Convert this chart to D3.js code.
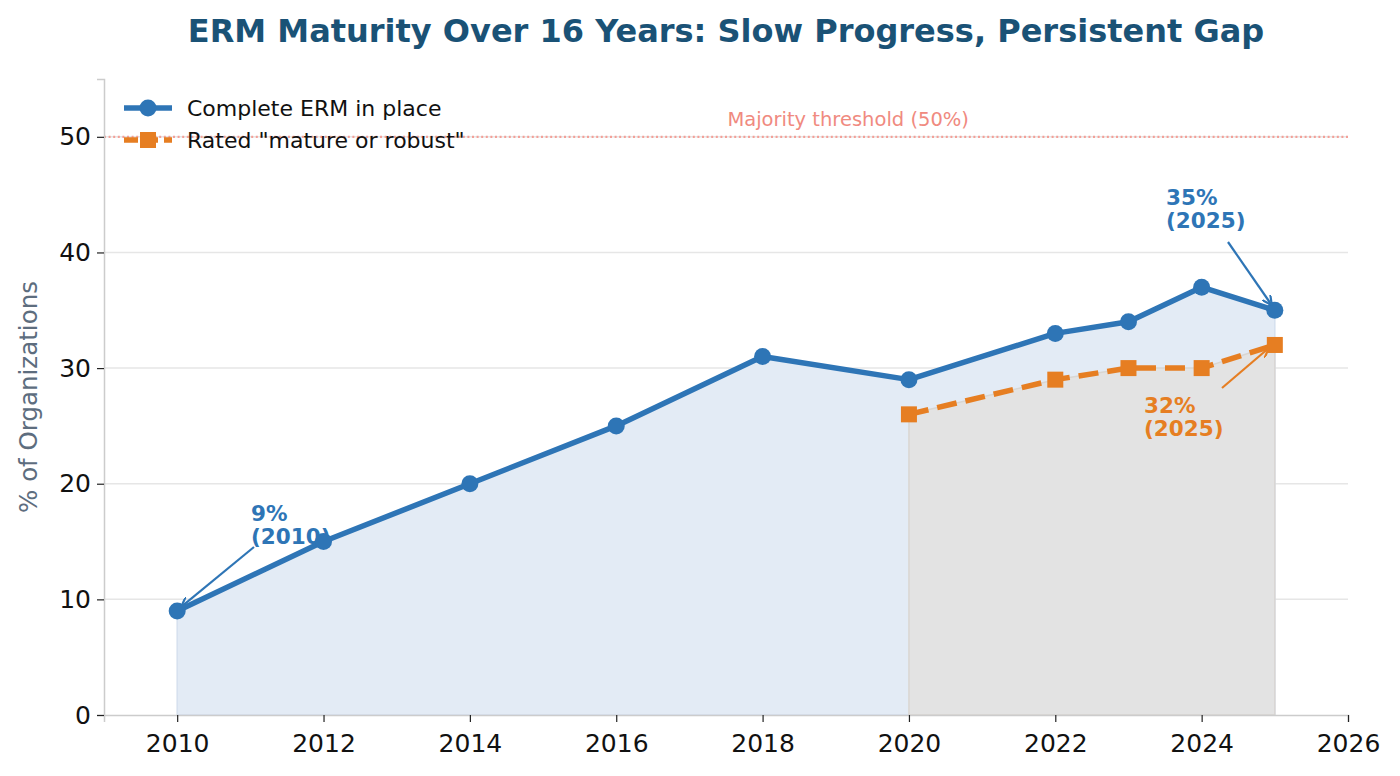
<!DOCTYPE html>
<html>
<head>
<meta charset="utf-8">
<script src="https://cdn.jsdelivr.net/npm/d3@7"></script>
<style>
  body { margin: 0; background: #fff; }
  text { font-family: "DejaVu Sans", sans-serif; }
</style>
</head>
<body>
<div id="chart"></div>
<script>
// data
const completeYears = [2010, 2012, 2014, 2016, 2018, 2020, 2022, 2023, 2024, 2025];
const completeValues = [9, 15, 20, 25, 31, 29, 33, 34, 37, 35];
const matureYears = [2020, 2022, 2023, 2024, 2025];
const matureValues = [26, 29, 30, 30, 32];
const xTicks = [2010, 2012, 2014, 2016, 2018, 2020, 2022, 2024, 2026];
const yTicks = [0, 10, 20, 30, 40, 50];
const threshold = 50;

const blue = "#2e75b6", orange = "#e67e22";

const W = 1400, H = 776;
const svg = d3.select("#chart").append("svg")
    .attr("width", W)
    .attr("height", H);

const x = d3.scaleLinear().domain([2009, 2026]).range([104, 1348]);
const y = d3.scaleLinear().domain([0, 55]).range([715, 79]);

const complete = completeYears.map((d, i) => ({year: d, v: completeValues[i]}));
const mature = matureYears.map((d, i) => ({year: d, v: matureValues[i]}));

// grid
svg.append("g")
    .selectAll("line")
    .data(yTicks.filter(d => d > 0))
    .enter().append("line")
    .attr("x1", 104).attr("x2", 1348)
    .attr("y1", d => y(d)).attr("y2", d => y(d))
    .attr("stroke", "#e6e6e6")
    .attr("stroke-width", 1.5);

// fills
const area = d3.area().x(d => x(d.year)).y0(y(0)).y1(d => y(d.v));
svg.append("path").datum(complete)
    .attr("d", area)
    .attr("fill", "#e3ebf5")
    .attr("stroke", "#d5e0ee")
    .attr("stroke-width", 1.5);
svg.append("path").datum(mature)
    .attr("d", area)
    .attr("fill", "#e3e3e3")
    .attr("stroke", "#d9d6d2")
    .attr("stroke-width", 1.5);

// threshold line
svg.append("line")
    .attr("x1", 104).attr("x2", 1348)
    .attr("y1", y(threshold)).attr("y2", y(threshold))
    .attr("stroke", "#f3a098")
    .attr("stroke-width", 2.2)
    .attr("stroke-dasharray", "2,2.6");
svg.append("text")
    .attr("x", x(2019.17)).attr("y", y(threshold) - 11)
    .attr("text-anchor", "middle")
    .attr("font-size", 19.5)
    .attr("fill", "#f08a80")
    .text("Majority threshold (" + threshold + "%)");

// axes
const xAxis = svg.append("g")
    .attr("transform", `translate(0,${y(0)})`)
    .call(d3.axisBottom(x).tickValues(xTicks).tickFormat(d3.format("d")).tickSize(7).tickPadding(6));
const yAxis = svg.append("g")
    .attr("transform", "translate(104,0)")
    .call(d3.axisLeft(y).tickValues(yTicks).tickSize(7).tickPadding(6));
[xAxis, yAxis].forEach(g => {
    g.select(".domain").attr("stroke", "#cccccc").attr("stroke-width", 1.5);
    g.selectAll(".tick line").attr("stroke", "#222").attr("stroke-width", 1.2);
    g.selectAll(".tick text").attr("font-size", 25).attr("fill", "#111")
        .attr("font-family", "DejaVu Sans, sans-serif");
});
xAxis.selectAll(".tick text").attr("dy", "0.95em");

svg.append("text")
    .attr("transform", `translate(37,${y(27.5)}) rotate(-90)`)
    .attr("text-anchor", "middle")
    .attr("font-size", 24.5)
    .attr("fill", "#5d6d7e")
    .text("% of Organizations");

// lines
const line = d3.line().x(d => x(d.year)).y(d => y(d.v));
svg.append("path").datum(complete)
    .attr("d", line)
    .attr("fill", "none")
    .attr("stroke", blue)
    .attr("stroke-width", 5.5)
    .attr("stroke-linejoin", "round");
svg.append("g").selectAll("circle")
    .data(complete).enter().append("circle")
    .attr("cx", d => x(d.year)).attr("cy", d => y(d.v))
    .attr("r", 8.5)
    .attr("fill", blue);

svg.append("path").datum(mature)
    .attr("d", line)
    .attr("fill", "none")
    .attr("stroke", orange)
    .attr("stroke-width", 5.5)
    .attr("stroke-dasharray", "20,9");
svg.append("g").selectAll("rect")
    .data(mature).enter().append("rect")
    .attr("x", d => x(d.year) - 8).attr("y", d => y(d.v) - 8)
    .attr("width", 16).attr("height", 16)
    .attr("fill", orange);

// annotations
svg.append("defs").selectAll("marker")
    .data([["arrB", blue], ["arrO", orange]])
    .enter().append("marker")
    .attr("id", d => d[0])
    .attr("viewBox", "0 0 10 10")
    .attr("refX", 10).attr("refY", 5)
    .attr("markerWidth", 10).attr("markerHeight", 10)
    .attr("markerUnits", "userSpaceOnUse")
    .attr("orient", "auto")
    .append("path")
    .attr("d", "M0,0 L10,5 L0,10")
    .attr("fill", "none")
    .attr("stroke", d => d[1])
    .attr("stroke-width", 2.2);

const notes = [
    {lines: ["9%", "(2010)"], tx: 251, ty: 521, from: [254, 547], to: [x(2010) + 4, y(9) - 4], color: blue, m: "arrB"},
    {lines: ["35%", "(2025)"], tx: 1166, ty: 205, from: [1228, 242], to: [x(2025) - 3, y(35) - 5], color: blue, m: "arrB"},
    {lines: ["32%", "(2025)"], tx: 1144, ty: 413, from: [1222, 388], to: [x(2025) - 6, y(32) + 3], color: orange, m: "arrO"}
];
notes.forEach(n => {
    svg.append("line")
        .attr("x1", n.from[0]).attr("y1", n.from[1])
        .attr("x2", n.to[0]).attr("y2", n.to[1])
        .attr("stroke", n.color)
        .attr("stroke-width", 2.2)
        .attr("marker-end", `url(#${n.m})`);
    const t = svg.append("text")
        .attr("x", n.tx).attr("y", n.ty)
        .attr("font-size", 21.5)
        .attr("font-weight", "bold")
        .attr("fill", n.color);
    n.lines.forEach((l, i) => t.append("tspan").attr("x", n.tx).attr("dy", i ? 23 : 0).text(l));
});

// legend
const legend = svg.append("g").attr("transform", "translate(124,108)");
legend.append("line").attr("x1", 0).attr("x2", 48).attr("y1", 0).attr("y2", 0)
    .attr("stroke", blue).attr("stroke-width", 5.5);
legend.append("circle").attr("cx", 24).attr("cy", 0).attr("r", 8.5).attr("fill", blue);
legend.append("text").attr("x", 63).attr("y", 8).attr("font-size", 22).attr("fill", "#111")
    .text("Complete ERM in place");
legend.append("line").attr("x1", 0).attr("x2", 48).attr("y1", 32).attr("y2", 32)
    .attr("stroke", orange).attr("stroke-width", 5.5).attr("stroke-dasharray", "14,6");
legend.append("rect").attr("x", 16).attr("y", 24).attr("width", 16).attr("height", 16).attr("fill", orange);
legend.append("text").attr("x", 63).attr("y", 40).attr("font-size", 22).attr("fill", "#111")
    .text('Rated "mature or robust"');

// title
svg.append("text")
    .attr("x", 726).attr("y", 42)
    .attr("text-anchor", "middle")
    .attr("font-size", 32)
    .attr("font-weight", "bold")
    .attr("fill", "#1a5276")
    .text("ERM Maturity Over 16 Years: Slow Progress, Persistent Gap");
</script>
</body>
</html>
